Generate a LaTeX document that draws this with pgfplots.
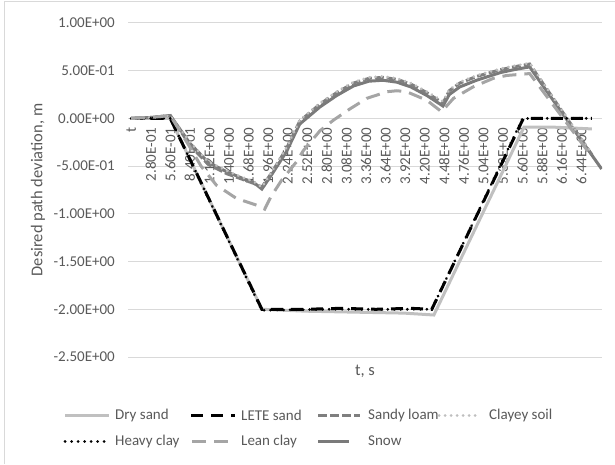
\documentclass[border=0pt]{standalone}
\usepackage{fontspec}
\setmainfont{Carlito}
\usepackage{pgfplots}
\pgfplotsset{compat=1.18}
\definecolor{txt}{HTML}{595959}
\definecolor{gridc}{HTML}{D9D9D9}
\definecolor{drysand}{HTML}{C0C0C0}
\definecolor{sandyloam}{HTML}{7F7F7F}
\definecolor{clayey}{HTML}{BFBFBF}
\definecolor{leanclay}{HTML}{A5A5A5}
\definecolor{snow}{HTML}{7A7A7A}
\tikzset{
  sDry/.style={drysand, line width=3pt},
  sLETE/.style={black, line width=3pt, dash pattern=on 12pt off 8pt},
  sSandy/.style={sandyloam, line width=3pt, dash pattern=on 9pt off 3pt},
  sClayey/.style={clayey, line width=3pt, line cap=round, dash pattern=on 0.01pt off 6pt},
  sHeavy/.style={black, line width=3pt, line cap=round, dash pattern=on 0.01pt off 6.5pt},
  sLean/.style={leanclay, line width=3pt, dash pattern=on 14pt off 8pt},
  sSnow/.style={snow, line width=3pt},
  lg/.style={anchor=west, inner sep=0pt, text=txt, font=\fontsize{15}{18}\selectfont},
}
\begin{document}
\begin{tikzpicture}[x=1pt,y=1pt]
\path[use as bounding box] (0,0) rectangle (615,464);
\draw[gridc, line width=1pt] (4,0) -- (4,462) -- (615,462);
\begin{axis}[
  at={(128pt,107pt)}, anchor=south west,
  width=474pt, height=334pt, scale only axis,
  xmin=-0.045, xmax=6.735, ymin=-2.5, ymax=1,
  axis x line=middle, axis y line=left,
  x axis line style={draw=gridc, line width=1pt, -},
  y axis line style={draw=none},
  hide obscured x ticks=false, hide obscured y ticks=false,
  ymajorgrids, grid style={gridc, line width=1pt},
  major tick length=0pt,
  ytick={-2.5,-2,-1.5,-1,-0.5,0,0.5,1},
  yticklabels={-2.50E+00,-2.00E+00,-1.50E+00,-1.00E+00,-5.00E-01,0.00E+00,5.00E-01,1.00E+00},
  xtick={0,0.28,0.56,0.84,1.12,1.40,1.68,1.96,2.24,2.52,2.80,3.08,3.36,3.64,3.92,4.20,4.48,4.76,5.04,5.32,5.60,5.88,6.16,6.44},
  xticklabels={t,2.80E-01,5.60E-01,8.40E-01,1.12E+00,1.40E+00,1.68E+00,1.96E+00,2.24E+00,2.52E+00,2.80E+00,3.08E+00,3.36E+00,3.64E+00,3.92E+00,4.20E+00,4.48E+00,4.76E+00,5.04E+00,5.32E+00,5.60E+00,5.88E+00,6.16E+00,6.44E+00},
  xticklabel style={rotate=90, anchor=east, inner sep=0pt},
  xticklabel shift=9pt,
  yticklabel style={anchor=east, inner sep=0pt},
  yticklabel shift=13pt,
  tick label style={font=\fontsize{15}{18}\selectfont, text=txt},
  no markers,
]
% Snow (drawn first so the dashed and dotted series stay visible above it)
\addplot[sSnow] coordinates {(0,0) (0.28,0.01) (0.56,0.03) (0.84,-0.26) (1.10,-0.46) (1.37,-0.56) (1.6,-0.63) (1.75,-0.67) (1.87,-0.74) (2.0,-0.60) (2.22,-0.35) (2.41,-0.06) (2.70,0.12) (2.94,0.24) (3.18,0.34) (3.4,0.39) (3.6,0.40) (3.8,0.38) (4.0,0.33) (4.23,0.24) (4.46,0.13) (4.55,0.25) (4.7,0.33) (4.94,0.40) (5.28,0.48) (5.47,0.51) (5.70,0.54) (6.73,-0.53)};
% Dry sand
\addplot[sDry] coordinates {(0,0) (0.56,0) (1.87,-2.0) (2.5,-2.02) (3.2,-2.03) (3.9,-2.04) (4.33,-2.06) (5.62,-0.09) (6.0,-0.09) (6.59,-0.11)};
% LETE sand
\addplot[sLETE] coordinates {(0,0) (0.56,0) (1.87,-2.0) (2.5,-2.0) (3.0,-1.99) (3.5,-2.0) (4.0,-1.99) (4.30,-2.0) (5.61,0) (6.59,0)};
% Sandy loam
\addplot[sSandy] coordinates {(0,0) (0.28,0.01) (0.56,0.03) (0.84,-0.28) (1.10,-0.48) (1.37,-0.58) (1.6,-0.64) (1.75,-0.68) (1.87,-0.72) (2.0,-0.58) (2.22,-0.32) (2.41,-0.03) (2.70,0.15) (2.94,0.27) (3.18,0.37) (3.4,0.42) (3.6,0.43) (3.8,0.41) (4.0,0.36) (4.23,0.27) (4.46,0.16) (4.55,0.29) (4.7,0.37) (4.94,0.44) (5.28,0.51) (5.47,0.54) (5.70,0.57) (6.59,-0.38)};
% Clayey soil
\addplot[sClayey] coordinates {(0,0) (0.28,0.01) (0.56,0.03) (0.84,-0.25) (1.10,-0.45) (1.37,-0.55) (1.6,-0.62) (1.75,-0.66) (1.87,-0.72) (2.0,-0.57) (2.22,-0.31) (2.41,-0.02) (2.70,0.16) (2.94,0.28) (3.18,0.38) (3.4,0.43) (3.6,0.44) (3.8,0.42) (4.0,0.37) (4.23,0.28) (4.46,0.18) (4.55,0.30) (4.7,0.38) (4.94,0.45) (5.28,0.52) (5.47,0.55) (5.70,0.58) (6.59,-0.37)};
% Heavy clay
\addplot[sHeavy] coordinates {(0,0) (0.56,0) (1.87,-2.01) (2.8,-2.0) (3.7,-2.0) (4.30,-2.0) (5.60,0) (6.59,0)};
% Lean clay
\addplot[sLean] coordinates {(0,0) (0.28,0.01) (0.56,0.03) (0.84,-0.30) (1.0,-0.50) (1.22,-0.70) (1.51,-0.84) (1.80,-0.91) (1.91,-0.95) (2.0,-0.82) (2.15,-0.65) (2.37,-0.45) (2.46,-0.34) (2.70,-0.13) (2.89,-0.02) (3.13,0.10) (3.37,0.21) (3.66,0.28) (3.8,0.29) (3.94,0.28) (4.23,0.19) (4.44,0.07) (4.61,0.21) (4.89,0.33) (5.18,0.42) (5.37,0.45) (5.70,0.47) (6.59,-0.40)};
\end{axis}
% axis titles
\node[rotate=90, text=txt, font=\fontsize{16.5}{19}\selectfont] at (38,274) {Desired path deviation, m};
\node[text=txt, font=\fontsize{16.5}{19}\selectfont] at (365,93) {t, s};
% legend
\draw[sDry] (65,49) -- (109,49); \node[lg] at (115,49) {Dry sand};
\draw[sLETE] (191,49) -- (235,49); \node[lg] at (241,49) {LETE sand};
\draw[sSandy] (318,49) -- (360,49); \node[lg] at (368,49) {Sandy loam};
\draw[sClayey] (439,49) -- (481,49); \node[lg] at (489,49) {Clayey soil};
\draw[sHeavy] (65,23) -- (108,23); \node[lg] at (115,23) {Heavy clay};
\draw[sLean] (192,23) -- (235,23); \node[lg] at (241,23) {Lean clay};
\draw[sSnow] (318,23) -- (349,23); \node[lg] at (368,23) {Snow};
\end{tikzpicture}
\end{document}
